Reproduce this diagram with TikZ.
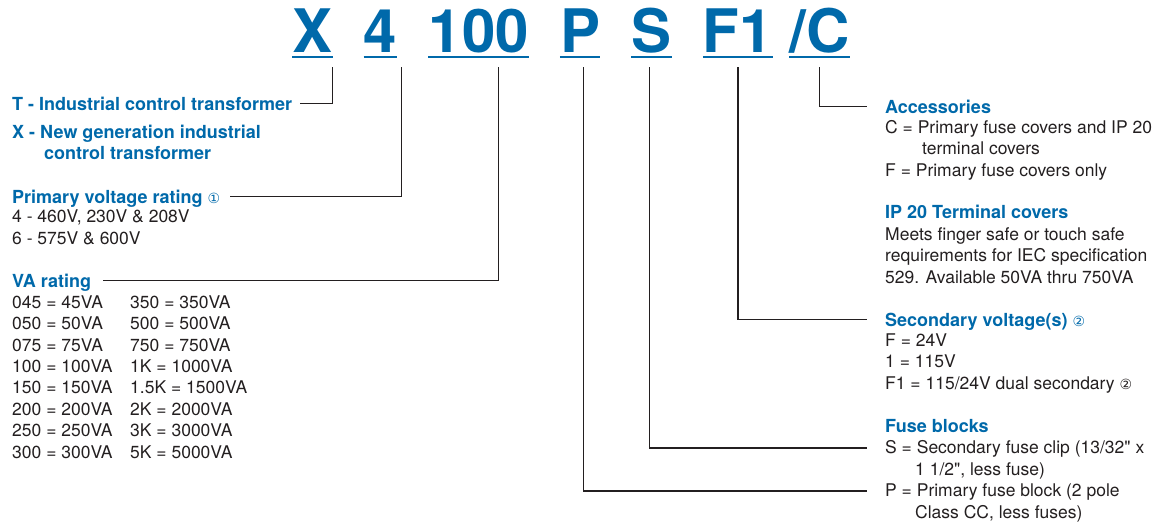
\documentclass[tikz,border=0pt]{standalone}
\usepackage{fontspec}
\setmainfont{TeX Gyre Heros}
\newfontfamily\symfont{DejaVu Sans}
\usetikzlibrary{positioning}
\definecolor{blu}{RGB}{0,105,170}
\definecolor{fg}{RGB}{35,31,32}
\tikzstyle{code}=[inner sep=0, text=blu, font=\fontsize{60}{60}\selectfont\bfseries,
text height=43pt, text depth=0pt]
\tikzstyle{hd}=[inner sep=0, anchor=base west, text=blu,
font=\fontsize{18}{21.4}\selectfont\bfseries, text height=12.6pt, text depth=0pt]
% multi-line text: base = baseline of the last line
\tikzstyle{bd}=[inner sep=0, anchor=base west, align=left, text=fg,
font=\fontsize{17.5}{21.4}\selectfont]
\tikzstyle{uline}=[draw=blu, line width=2.5pt]
\tikzstyle{conn}=[draw=fg, line width=1.1pt]
\newcommand{\cnum}[1]{{\symfont\mdseries\fontsize{14}{14}\selectfont #1}}

\begin{document}
\begin{tikzpicture}[x=1pt, y=-1pt, node distance=31pt]
    \useasboundingbox (0,0) rectangle (1167,525);

    % catalogue number
    \node[code, anchor=base] (hX) at (312.5,52) {X};
    \node[code, base right=of hX] (h4) {4};
    \node[code, base right=of h4] (h100) {100};
    \node[code, base right=of h100] (hP) {P};
    \node[code, base right=of hP] (hS) {S};
    \node[code, base right=of hS] (hF1) {F1};
    \node[code, base right=16pt of hF1] (hC) {/C};

    \draw[uline] ([yshift=-5pt]hX.south west) -- ([yshift=-5pt]hX.south east);
    \draw[uline] ([yshift=-5pt]h4.south west) -- ([yshift=-5pt]h4.south east);
    \draw[uline] ([yshift=-5pt]h100.south west) -- ([yshift=-5pt]h100.south east);
    \draw[uline] ([yshift=-5pt]hP.south west) -- ([yshift=-5pt]hP.south east);
    \draw[uline] ([yshift=-5pt]hS.south west) -- ([yshift=-5pt]hS.south east);
    \draw[uline] ([yshift=-5pt]hF1.south west) -- ([yshift=-5pt]hF1.south east);
    \draw[uline] ([yshift=-5pt]hC.south west) -- ([yshift=-5pt]hC.south east);

    % left side
    \node[hd] (tT) at (12,110) {T - Industrial control transformer};
    \node[hd] (tX) at (12,138) {X - New generation industrial};
    \node[hd] (tX2) at (44,159) {control transformer};

    \node[hd] (pv) at (12,203) {Primary voltage rating \cnum{①}};
    \node[bd] (pvb) at (12,244) {4 - 460V, 230V \& 208V\\6 - 575V \& 600V};

    \node[hd] (va) at (12,287) {VA rating};
    \node[bd] (va1) at (12,458) {045 = 45VA\\050 = 50VA\\075 = 75VA\\100 = 100VA\\
    150 = 150VA\\200 = 200VA\\250 = 250VA\\300 = 300VA};
    \node[bd] (va2) at (130,458) {350 = 350VA\\500 = 500VA\\750 = 750VA\\1K = 1000VA\\
    1.5K = 1500VA\\2K = 2000VA\\3K = 3000VA\\5K = 5000VA};

    % right side
    \node[hd] (acc) at (885,113) {Accessories};
    \node[bd] (accb) at (885,176) {C = Primary fuse covers and IP 20\\
    \hspace*{37pt}terminal covers\\F = Primary fuse covers only};

    \node[hd] (ip) at (885,218) {IP 20 Terminal covers};
    \node[bd] (ipb) at (885,283) {Meets finger safe or touch safe\\
    requirements for IEC specification\\529. Available 50VA thru 750VA};

    \node[hd] (sec) at (885,326) {Secondary voltage(s) \cnum{②}};
    \node[bd] (secb) at (885,389) {F = 24V\\1 = 115V\\F1 = 115/24V dual secondary \cnum{②}};

    \node[hd] (fb) at (885,432) {Fuse blocks};
    \node[bd] (fS) at (885,475) {S = Secondary fuse clip (13/32\textquotedbl\ x\\
    \hspace*{30pt}1 1/2\textquotedbl, less fuse)};
    \node[bd] (fP) at (885,518) {P = Primary fuse block (2 pole\\
    \hspace*{30pt}Class CC, less fuses)};

    % leader lines
    \draw[conn] ([yshift=-15pt]hX.south east) |- ([xshift=8pt]tT.east);
    \draw[conn] ([xshift=4pt,yshift=-15pt]h4.south east) |- ([xshift=10pt]pv.east);
    \draw[conn] ([xshift=20pt,yshift=-15pt]h100.south) |- ([xshift=12pt]va.east);
    \draw[conn] ([xshift=3pt,yshift=-15pt]hP.south) |- ([xshift=-18pt,yshift=27pt]fP.base west);
    \draw[conn] ([xshift=-2pt,yshift=-15pt]hS.south) |- ([xshift=-18pt,yshift=27pt]fS.base west);
    \draw[conn] ([yshift=-15pt]hF1.south) |- ([xshift=-18pt]sec.west);
    \draw[conn] ([yshift=-15pt]hC.south) |- ([xshift=-18pt]acc.west);

\end{tikzpicture}
\end{document}
